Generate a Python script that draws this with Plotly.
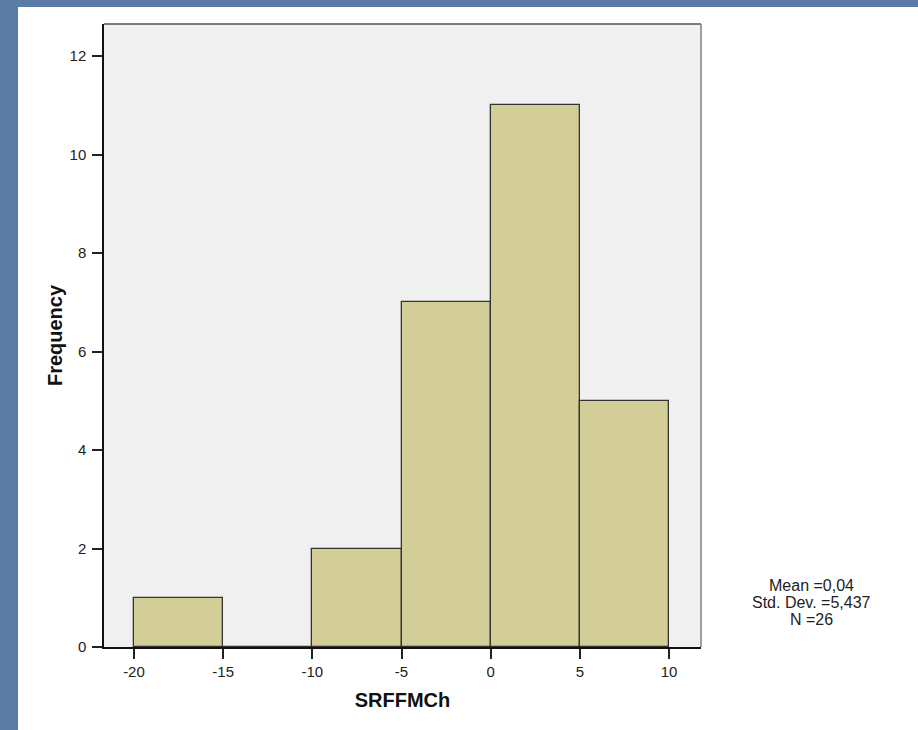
import plotly.graph_objects as go

bin_left = [-20, -15, -10, -5, 0, 5]
bin_width = 5
counts = [1, 0, 2, 7, 11, 5]
x_ticks = [-20, -15, -10, -5, 0, 5, 10]
y_ticks = [0, 2, 4, 6, 8, 10, 12]
stats_text = ["Mean =0,04", "Std. Dev. =5,437", "N =26"]

FONT = "Arial, Liberation Sans, sans-serif"
W, H = 918, 730
L, R, T, B = 104, 217, 24, 83
pw, ph = W - L - R, H - T - B

def px_x(px):
    return (px - L) / pw

def px_y(py):
    return (H - B - py) / ph

fig = go.Figure()
fig.add_trace(go.Bar(
    x=bin_left, y=counts, width=[bin_width] * len(counts), offset=0,
    marker=dict(color="#d3ce98", line=dict(color="#333333", width=1.3)),
    hoverinfo="x+y", showlegend=False,
))

shapes = [
    dict(type="rect", xref="paper", yref="paper", x0=px_x(0), x1=px_x(18), y0=px_y(H), y1=px_y(0),
         fillcolor="#5a7ca4", line=dict(width=0), layer="below"),
    dict(type="rect", xref="paper", yref="paper", x0=px_x(0), x1=px_x(W), y0=px_y(7), y1=px_y(0),
         fillcolor="#5a7ca4", line=dict(width=0), layer="below"),
    dict(type="line", xref="paper", yref="paper", x0=0, x1=1, y0=1, y1=1,
         line=dict(color="#555555", width=1.5)),
    dict(type="line", xref="paper", yref="paper", x0=1, x1=1, y0=0, y1=1,
         line=dict(color="#808080", width=1.5)),
]

annotations = []
line_y = [585, 602, 619]
for txt, ly in zip(stats_text, line_y):
    annotations.append(dict(
        text=txt, xref="paper", yref="paper",
        x=px_x(811), y=px_y(ly), xanchor="center", yanchor="middle",
        showarrow=False, align="center", font=dict(family=FONT, size=16, color="#222"),
    ))

fig.update_layout(
    width=W, height=H,
    margin=dict(l=L, r=R, t=T, b=B, pad=0),
    paper_bgcolor="white", plot_bgcolor="#f0f0f0",
    font=dict(family=FONT, size=15, color="#222"),
    bargap=0,
    shapes=shapes,
    annotations=annotations,
)
fig.update_xaxes(
    range=[-21.68, 11.79], tickvals=x_ticks, ticktext=[str(v) for v in x_ticks],
    ticks="outside", ticklen=10, tickwidth=1.5, tickcolor="#222", ticklabelstandoff=0,
    showline=True, linecolor="#111", linewidth=1.5, mirror=False,
    showgrid=False, zeroline=False,
    tickfont=dict(family=FONT, size=15, color="#222"),
    title=dict(text="<b>SRFFMCh</b>", font=dict(family=FONT, size=20, color="#111"), standoff=14),
)
fig.update_yaxes(
    range=[0, 12.65], tickvals=y_ticks, ticktext=[str(v) for v in y_ticks],
    ticks="outside", ticklen=10, tickwidth=1.5, tickcolor="#222", ticklabelstandoff=3,
    showline=True, linecolor="#111", linewidth=1.5, mirror=False,
    showgrid=False, zeroline=False,
    tickfont=dict(family=FONT, size=15, color="#222"),
    title=dict(text="<b>Frequency</b>", font=dict(family=FONT, size=20, color="#111"), standoff=2),
)

fig.write_html("out.html")
